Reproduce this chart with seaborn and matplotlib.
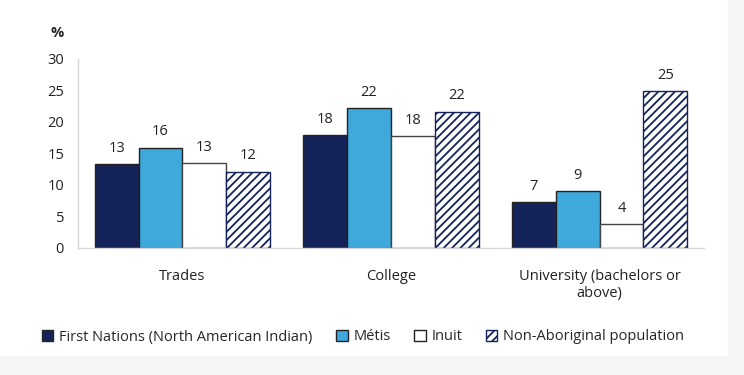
import numpy as np
import pandas as pd
import matplotlib.pyplot as plt
import matplotlib.patches as mpatches
import seaborn as sns

# data
categories = ["Trades", "College", "University (bachelors or\nabove)"]
groups = ["First Nations (North American Indian)", "Métis", "Inuit", "Non-Aboriginal population"]
first_nations = [13.3, 17.9, 7.3]
metis = [15.9, 22.2, 9.0]
inuit = [13.4, 17.7, 3.8]
non_aboriginal = [12.1, 21.6, 24.9]

colors = ["#14245a", "#3fa9dc", "#ffffff", "#ffffff"]

rows = []
for g, vals in zip(groups, [first_nations, metis, inuit, non_aboriginal]):
    for c, v in zip(categories, vals):
        rows.append({"Category": c, "Group": g, "Value": v})
df = pd.DataFrame(rows)

sns.set_style("white")
plt.rcParams["font.family"] = ["Open Sans", "DejaVu Sans"]
plt.rcParams["hatch.linewidth"] = 1.3

fig = plt.figure(figsize=(7.44, 3.75), dpi=100)
# light grey frame strips at right and bottom
fig.patches.append(mpatches.Rectangle((728 / 744, 0), 1, 1, transform=fig.transFigure,
                                      color="#f5f5f5", zorder=0))
fig.patches.append(mpatches.Rectangle((0, 0), 1, 19 / 375, transform=fig.transFigure,
                                      color="#f5f5f5", zorder=0))

ax = fig.add_axes([78 / 744, 0.339, 626 / 744, 0.504])
sns.barplot(data=df, x="Category", y="Value", hue="Group", hue_order=groups,
            palette=colors, width=0.84, ax=ax, legend=False, saturation=1,
            edgecolor="#222222", linewidth=1)

n = len(categories)
for i, bar in enumerate(ax.patches[: n * len(groups)]):
    gi = i // n
    if gi == 3:
        bar.set_hatch("////")
        bar.set_edgecolor("#14245a")
    elif gi == 2:
        bar.set_edgecolor("#444444")

for cont in ax.containers:
    ax.bar_label(cont, labels=[f"{v:.0f}" for v in cont.datavalues], padding=6,
                 fontsize=10.5, color="#222222")

ax.set_ylim(0, 30)
ax.set_yticks(np.arange(0, 31, 5))
ax.set_xlim(-0.5, n - 0.5)
ax.set_xlabel("")
ax.set_ylabel("")
ax.tick_params(axis="both", length=0, labelsize=10.5, colors="#222222")
ax.tick_params(axis="y", pad=10)
ax.set_xticks(range(n))
ax.set_xticklabels([])
for i, c in enumerate(categories):
    ax.text(i, -0.11, c, transform=ax.get_xaxis_transform(), ha="center", va="top",
            multialignment="center", fontsize=10.5, color="#222222", linespacing=1.25)
for s in ["top", "right"]:
    ax.spines[s].set_visible(False)
for s in ["left", "bottom"]:
    ax.spines[s].set_color("#d9d9d9")
    ax.spines[s].set_linewidth(1)

fig.text(57 / 744, 1 - 33 / 375, "%", fontsize=10.5, fontweight="bold",
         ha="center", va="center", color="#222222")

handles = []
for g, col in zip(groups, colors):
    if g == groups[3]:
        h = mpatches.Patch(facecolor="white", edgecolor="#14245a", hatch="////", label=g)
    else:
        h = mpatches.Patch(facecolor=col, edgecolor="#222222", label=g)
    handles.append(h)
fig.legend(handles=handles, loc="center", bbox_to_anchor=(363 / 744, 1 - 337 / 375),
           ncol=4, frameon=False, fontsize=10.5, handlelength=0.8, handleheight=0.8,
           handletextpad=0.4, columnspacing=1.6)

fig.savefig("out.png", dpi=100)
